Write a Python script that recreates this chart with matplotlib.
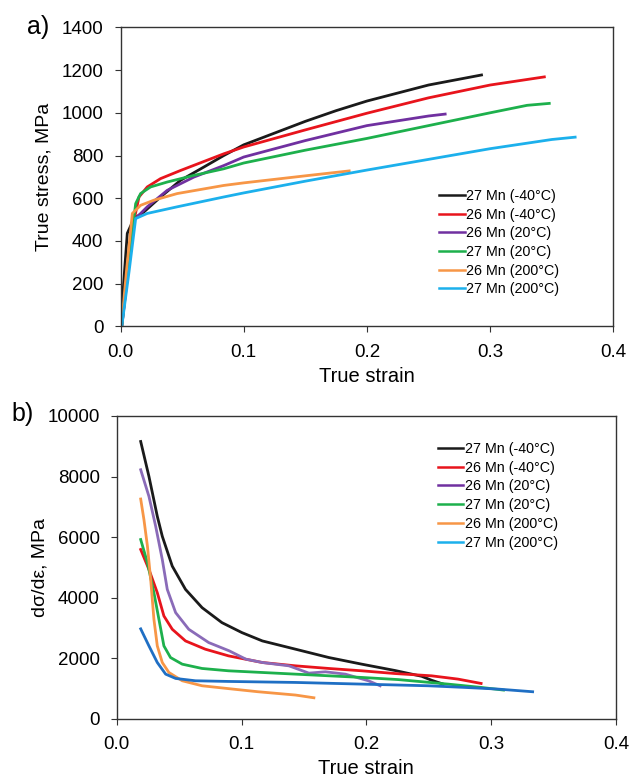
import matplotlib.pyplot as plt
from matplotlib.lines import Line2D

plt.rcParams['font.family'] = ['Liberation Sans', 'DejaVu Sans']

labels = ['27 Mn (-40°C)', '26 Mn (-40°C)', '26 Mn (20°C)',
          '27 Mn (20°C)', '26 Mn (200°C)', '27 Mn (200°C)']
colors_a = ['#1a1a1a', '#e8141c', '#7030a0', '#1db04c', '#f79646', '#1cb0ec']
colors_b = ['#1a1a1a', '#e8141c', '#8a6bb8', '#1db04c', '#f79646', '#1f6fc4']

# a) true stress vs true strain
a_x = [
    [0.0, 0.0055, 0.0109, 0.019, 0.0325, 0.0487, 0.0676, 0.0838, 0.1, 0.125, 0.15, 0.175, 0.2, 0.25, 0.293],
    [0.001, 0.006, 0.011, 0.015, 0.0217, 0.0325, 0.0487, 0.0838, 0.1, 0.15, 0.2, 0.25, 0.3, 0.344],
    [0.001, 0.006, 0.011, 0.0217, 0.0379, 0.0595, 0.0838, 0.1, 0.15, 0.2, 0.25, 0.2635],
    [0.001, 0.006, 0.0123, 0.0163, 0.0244, 0.0379, 0.0595, 0.0838, 0.1, 0.15, 0.2, 0.25, 0.3, 0.33, 0.348],
    [0.0007, 0.005, 0.0096, 0.0163, 0.0271, 0.046, 0.0838, 0.1, 0.15, 0.1856],
    [0.001, 0.007, 0.0123, 0.0217, 0.046, 0.0838, 0.1, 0.15, 0.2, 0.25, 0.3, 0.35, 0.369],
]
a_y = [
    [0, 436, 505, 536, 606, 684, 746, 800, 850, 905, 960, 1010, 1055, 1130, 1177],
    [0, 250, 498, 606, 653, 692, 730, 808, 840, 920, 998, 1070, 1130, 1168],
    [0, 260, 498, 560, 637, 699, 753, 793, 870, 940, 985, 994],
    [0, 280, 575, 622, 653, 676, 707, 738, 765, 825, 880, 940, 1000, 1035, 1044],
    [0, 270, 529, 567, 591, 622, 660, 672, 705, 728],
    [0, 260, 505, 529, 560, 606, 625, 680, 732, 782, 832, 875, 886],
]

# b) work hardening rate vs true strain
b_x = [
    [0.0192, 0.0258, 0.0325, 0.0365, 0.0445, 0.0551, 0.0684, 0.0843, 0.1003, 0.1167, 0.1433, 0.17, 0.1964, 0.223, 0.2443, 0.2522, 0.2616],
    [0.0192, 0.0258, 0.0325, 0.0378, 0.0445, 0.0551, 0.071, 0.0896, 0.1167, 0.1433, 0.17, 0.1964, 0.223, 0.2522, 0.2735, 0.292],
    [0.0192, 0.0258, 0.0312, 0.0365, 0.0405, 0.0472, 0.0577, 0.0737, 0.0902, 0.1035, 0.1167, 0.138, 0.154, 0.1672, 0.1832, 0.2017, 0.2111],
    [0.0192, 0.0246, 0.0298, 0.0338, 0.0378, 0.0431, 0.0525, 0.0684, 0.0896, 0.1433, 0.1964, 0.2257, 0.2655, 0.292, 0.31],
    [0.0192, 0.0218, 0.0246, 0.0272, 0.0298, 0.0325, 0.0365, 0.0418, 0.0525, 0.0684, 0.09, 0.113, 0.1433, 0.158],
    [0.0192, 0.0258, 0.0325, 0.0392, 0.0472, 0.0631, 0.0896, 0.1433, 0.1964, 0.2496, 0.2788, 0.3054, 0.3333],
]
b_y = [
    [9157, 8006, 6690, 6030, 5044, 4277, 3674, 3180, 2851, 2576, 2303, 2028, 1809, 1600, 1410, 1280, 1151],
    [5593, 4935, 4168, 3399, 2961, 2576, 2303, 2083, 1864, 1754, 1667, 1590, 1500, 1425, 1316, 1173],
    [8225, 7347, 6360, 5264, 4277, 3510, 2961, 2522, 2248, 1974, 1864, 1754, 1513, 1557, 1480, 1261, 1096],
    [5922, 5155, 4168, 3290, 2412, 2028, 1809, 1667, 1590, 1480, 1371, 1300, 1151, 1042, 954],
    [7259, 6580, 5702, 4606, 3290, 2412, 1864, 1535, 1261, 1096, 1000, 900, 790, 700],
    [2974, 2412, 1864, 1480, 1338, 1261, 1239, 1206, 1151, 1096, 1042, 987, 899],
]

fig = plt.figure(figsize=(6.31, 7.81), dpi=100)
ax1 = fig.add_axes([0.191, 0.582, 0.781, 0.383])
ax2 = fig.add_axes([0.185, 0.0794, 0.791, 0.388])

for i in range(6):
    ax1.plot(a_x[i], a_y[i], color=colors_a[i], lw=2, label=labels[i])
    ax2.plot(b_x[i], b_y[i], color=colors_b[i], lw=2)

for ax in (ax1, ax2):
    ax.set_xlim(0, 0.4)
    ax.set_xticks([0.0, 0.1, 0.2, 0.3, 0.4])
    ax.set_xticklabels(['0.0', '0.1', '0.2', '0.3', '0.4'])
    ax.tick_params(labelsize=13.5, direction='out', length=4.3, pad=8, color='#333333')
    ax.tick_params(top=False, right=False)
    for s in ax.spines.values():
        s.set_color('#333333')
        s.set_linewidth(1.0)
    ax.set_xlabel('True strain', fontsize=14.5)

ax1.set_ylim(0, 1400)
ax1.set_yticks(range(0, 1401, 200))
ax1.set_ylabel('True stress, MPa', fontsize=14)
ax2.set_ylim(0, 10000)
ax2.set_yticks(range(0, 10001, 2000))
ax2.set_ylabel('dσ/dε, MPa', fontsize=14)

ax1.xaxis.set_label_coords(0.5, -0.135)
ax2.xaxis.set_label_coords(0.5, -0.132)
ax1.yaxis.set_label_coords(-0.138, 0.5)
ax2.yaxis.set_label_coords(-0.137, 0.5)

handles = [Line2D([], [], color=c, lw=1.8) for c in colors_a]
leg_kw = dict(frameon=False, fontsize=10.3, handlelength=1.8, handletextpad=0.1,
              labelspacing=0.33, loc='upper left', borderaxespad=0, borderpad=0)
ax1.legend(handles, labels, bbox_to_anchor=(0.646, 0.46), **leg_kw)
ax2.legend(handles, labels, bbox_to_anchor=(0.643, 0.914), **leg_kw)

fig.text(0.061, 0.965, 'a)', fontsize=18, ha='center', va='center')
fig.text(0.0357, 0.47, 'b)', fontsize=18, ha='center', va='center')

fig.savefig('out.png', dpi=100)
